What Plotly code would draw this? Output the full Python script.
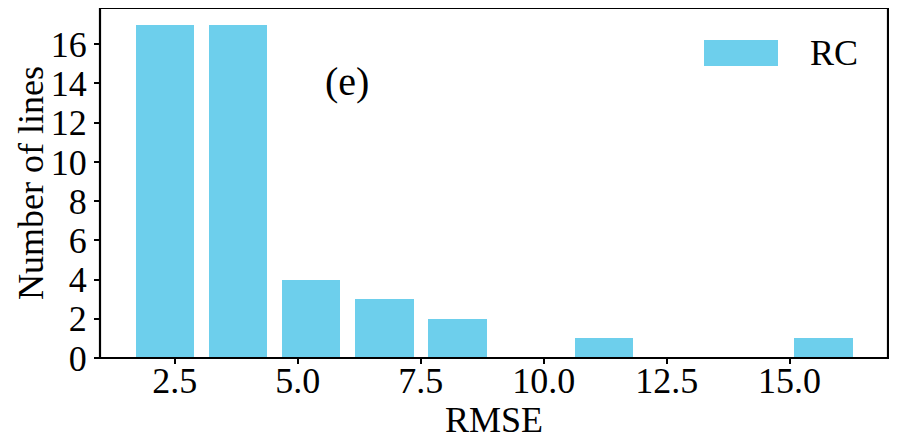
import plotly.graph_objects as go

# Histogram bins (RMSE) and counts
bin_centers = [2.297, 3.785, 5.273, 6.761, 8.249, 9.737, 11.225, 12.713, 14.201, 15.689]
bin_width = 1.488
counts = [17, 17, 4, 3, 2, 0, 1, 0, 0, 1]
x_ticks = [2.5, 5.0, 7.5, 10.0, 12.5, 15.0]
y_ticks = [0, 2, 4, 6, 8, 10, 12, 14, 16]
series_name = "RC"
panel_label = "(e)"

BAR_COLOR = "#6dcfec"
FONT = "Liberation Serif"
FS = 36

fig = go.Figure()
fig.add_trace(go.Bar(
    x=bin_centers, y=counts, width=[bin_width * 0.8] * len(counts),
    marker=dict(color=BAR_COLOR, line=dict(width=0)),
    name=series_name, showlegend=False,
))

# page body has an 8px default margin, so the figure is sized/offset to compensate
fig.update_layout(
    width=889, height=438, autosize=False,
    margin=dict(l=92, r=9, t=0, b=88, pad=0),
    paper_bgcolor="white", plot_bgcolor="white",
    font=dict(family=FONT, size=FS, color="black"),
    xaxis=dict(range=[0.98, 17.0], tickvals=x_ticks, ticktext=[f"{v:.1f}" for v in x_ticks],
               showline=False,
               ticks="outside", ticklen=5, tickwidth=1.5, tickcolor="black",
               ticklabelstandoff=-14,
               showgrid=False, zeroline=False, automargin=False,
               tickfont=dict(family=FONT, size=FS)),
    yaxis=dict(range=[0, 17.85], tickvals=y_ticks,
               showline=False,
               ticks="outside", ticklen=5, tickwidth=1.5, tickcolor="black",
               showgrid=False, zeroline=False, automargin=False,
               tickfont=dict(family=FONT, size=FS)),
    bargap=0,
)

# frame around the plot area
fig.add_shape(type="rect", xref="paper", yref="paper", x0=0, x1=1, y0=0, y1=1,
              line=dict(color="black", width=2.2), fillcolor="rgba(0,0,0,0)", layer="above")

# axis titles
fig.add_annotation(text="RMSE", xref="paper", yref="paper", x=0.5, y=0,
                   xanchor="center", yanchor="middle", yshift=-62, showarrow=False,
                   font=dict(family=FONT, size=FS))
fig.add_annotation(text="Number of lines", xref="paper", yref="paper", x=0, y=0.5,
                   xanchor="center", yanchor="middle", xshift=-69, textangle=-90,
                   showarrow=False, font=dict(family=FONT, size=FS))
# panel label
fig.add_annotation(text=panel_label, xref="x", yref="y", x=6.01, y=14.1,
                   xanchor="center", yanchor="middle", showarrow=False,
                   font=dict(family=FONT, size=40))
# legend (patch + text)
fig.add_shape(type="rect", xref="paper", yref="paper", x0=0.7665, x1=0.8604,
              y0=0.834, y1=0.9086, fillcolor=BAR_COLOR, line=dict(width=0))
fig.add_annotation(text=series_name, xref="paper", yref="paper", x=0.8985, y=0.871,
                   xanchor="left", yanchor="middle", showarrow=False,
                   font=dict(family=FONT, size=FS))

fig.write_html("out.html")
